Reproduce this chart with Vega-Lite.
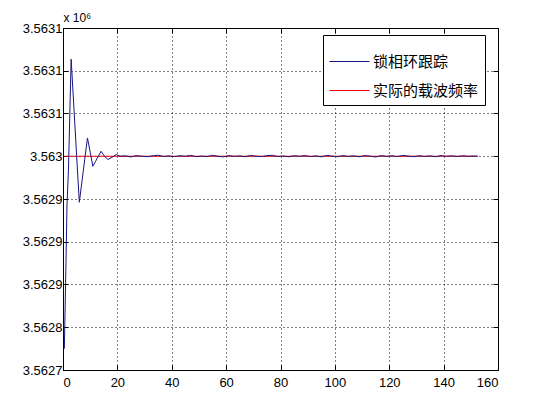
{
  "$schema": "https://vega.github.io/schema/vega-lite/v6.json",
  "autosize": "none",
  "width": 435,
  "height": 342,
  "padding": {"left": 63, "top": 28, "right": 35, "bottom": 40},
  "background": "white",
  "config": {
    "font": "Liberation Sans",
    "view": {"stroke": "black", "strokeWidth": 1},
    "axis": {"labelFont": "Liberation Sans", "labelFontSize": 13, "labelColor": "black", "domainColor": "black", "tickColor": "black"}
  },
  "data": {"values": [
    {"x": 0.5, "v": 3.563, "s": "实际的载波频率"},
    {"x": 152.5, "v": 3.563, "s": "实际的载波频率"},
    {"x": 0.5, "v": 3.562775, "s": "锁相环跟踪"},
    {"x": 1.1, "v": 3.562876, "s": "锁相环跟踪"},
    {"x": 1.47, "v": 3.5629427, "s": "锁相环跟踪"},
    {"x": 2, "v": 3.5629836, "s": "锁相环跟踪"},
    {"x": 3, "v": 3.5631135, "s": "锁相环跟踪"},
    {"x": 4, "v": 3.5630573, "s": "锁相环跟踪"},
    {"x": 5, "v": 3.5630012, "s": "锁相环跟踪"},
    {"x": 6, "v": 3.5629462, "s": "锁相环跟踪"},
    {"x": 7, "v": 3.5629712, "s": "锁相环跟踪"},
    {"x": 8, "v": 3.5629965, "s": "锁相环跟踪"},
    {"x": 9, "v": 3.5630214, "s": "锁相环跟踪"},
    {"x": 10, "v": 3.5630047, "s": "锁相环跟踪"},
    {"x": 11, "v": 3.5629883, "s": "锁相环跟踪"},
    {"x": 12, "v": 3.5629942, "s": "锁相环跟踪"},
    {"x": 13, "v": 3.563, "s": "锁相环跟踪"},
    {"x": 14, "v": 3.5630058, "s": "锁相环跟踪"},
    {"x": 15, "v": 3.5630012, "s": "锁相环跟踪"},
    {"x": 16.5, "v": 3.5629961, "s": "锁相环跟踪"},
    {"x": 18, "v": 3.5629988, "s": "锁相环跟踪"},
    {"x": 19.6, "v": 3.563002, "s": "锁相环跟踪"},
    {"x": 21, "v": 3.563, "s": "锁相环跟踪"},
    {"x": 23, "v": 3.5630005, "s": "锁相环跟踪"},
    {"x": 25, "v": 3.5629992, "s": "锁相环跟踪"},
    {"x": 27, "v": 3.5630008, "s": "锁相环跟踪"},
    {"x": 29, "v": 3.563, "s": "锁相环跟踪"},
    {"x": 31, "v": 3.5629995, "s": "锁相环跟踪"},
    {"x": 33, "v": 3.5630005, "s": "锁相环跟踪"},
    {"x": 35, "v": 3.5630012, "s": "锁相环跟踪"},
    {"x": 37, "v": 3.5629998, "s": "锁相环跟踪"},
    {"x": 39, "v": 3.5630003, "s": "锁相环跟踪"},
    {"x": 41, "v": 3.5629996, "s": "锁相环跟踪"},
    {"x": 43, "v": 3.5630006, "s": "锁相环跟踪"},
    {"x": 45, "v": 3.563, "s": "锁相环跟踪"},
    {"x": 47, "v": 3.563001, "s": "锁相环跟踪"},
    {"x": 49, "v": 3.5629995, "s": "锁相环跟踪"},
    {"x": 51, "v": 3.5630002, "s": "锁相环跟踪"},
    {"x": 53, "v": 3.5629997, "s": "锁相环跟踪"},
    {"x": 55, "v": 3.5630011, "s": "锁相环跟踪"},
    {"x": 57, "v": 3.563, "s": "锁相环跟踪"},
    {"x": 59, "v": 3.5629993, "s": "锁相环跟踪"},
    {"x": 61, "v": 3.5630008, "s": "锁相环跟踪"},
    {"x": 63, "v": 3.5629999, "s": "锁相环跟踪"},
    {"x": 65, "v": 3.5630004, "s": "锁相环跟踪"},
    {"x": 67, "v": 3.5629995, "s": "锁相环跟踪"},
    {"x": 69, "v": 3.5630009, "s": "锁相环跟踪"},
    {"x": 71, "v": 3.5630001, "s": "锁相环跟踪"},
    {"x": 73, "v": 3.5629996, "s": "锁相环跟踪"},
    {"x": 75, "v": 3.5630007, "s": "锁相环跟踪"},
    {"x": 77, "v": 3.5630011, "s": "锁相环跟踪"},
    {"x": 79, "v": 3.5629997, "s": "锁相环跟踪"},
    {"x": 81, "v": 3.5630003, "s": "锁相环跟踪"},
    {"x": 83, "v": 3.5629994, "s": "锁相环跟踪"},
    {"x": 85, "v": 3.5630006, "s": "锁相环跟踪"},
    {"x": 87, "v": 3.563, "s": "锁相环跟踪"},
    {"x": 89, "v": 3.5630008, "s": "锁相环跟踪"},
    {"x": 91, "v": 3.5629996, "s": "锁相环跟踪"},
    {"x": 93, "v": 3.5630004, "s": "锁相环跟踪"},
    {"x": 95, "v": 3.5629993, "s": "锁相环跟踪"},
    {"x": 97, "v": 3.5630009, "s": "锁相环跟踪"},
    {"x": 99, "v": 3.5630001, "s": "锁相环跟踪"},
    {"x": 101, "v": 3.5629995, "s": "锁相环跟踪"},
    {"x": 103, "v": 3.5630007, "s": "锁相环跟踪"},
    {"x": 105, "v": 3.5629998, "s": "锁相环跟踪"},
    {"x": 107, "v": 3.5630004, "s": "锁相环跟踪"},
    {"x": 109, "v": 3.5629994, "s": "锁相环跟踪"},
    {"x": 111, "v": 3.5630008, "s": "锁相环跟踪"},
    {"x": 113, "v": 3.5630001, "s": "锁相环跟踪"},
    {"x": 115, "v": 3.5629992, "s": "锁相环跟踪"},
    {"x": 117, "v": 3.5630007, "s": "锁相环跟踪"},
    {"x": 119, "v": 3.5629999, "s": "锁相环跟踪"},
    {"x": 121, "v": 3.5630005, "s": "锁相环跟踪"},
    {"x": 123, "v": 3.5629996, "s": "锁相环跟踪"},
    {"x": 125, "v": 3.563001, "s": "锁相环跟踪"},
    {"x": 127, "v": 3.5630002, "s": "锁相环跟踪"},
    {"x": 129, "v": 3.5629995, "s": "锁相环跟踪"},
    {"x": 131, "v": 3.5630006, "s": "锁相环跟踪"},
    {"x": 133, "v": 3.5629998, "s": "锁相环跟踪"},
    {"x": 135, "v": 3.5630004, "s": "锁相环跟踪"},
    {"x": 137, "v": 3.5629994, "s": "锁相环跟踪"},
    {"x": 139, "v": 3.5630008, "s": "锁相环跟踪"},
    {"x": 141, "v": 3.563, "s": "锁相环跟踪"},
    {"x": 143, "v": 3.5630005, "s": "锁相环跟踪"},
    {"x": 145, "v": 3.5629997, "s": "锁相环跟踪"},
    {"x": 147, "v": 3.5630006, "s": "锁相环跟踪"},
    {"x": 149, "v": 3.5629999, "s": "锁相环跟踪"},
    {"x": 151, "v": 3.5630003, "s": "锁相环跟踪"},
    {"x": 152.5, "v": 3.563, "s": "锁相环跟踪"}
  ]},
  "encoding": {
    "x": {"field": "x", "type": "quantitative", "scale": {"domain": [0, 160], "nice": false, "zero": false}},
    "y": {"field": "v", "type": "quantitative", "scale": {"domain": [3.56275, 3.56315], "nice": false, "zero": false}},
    "color": {
      "field": "s", "type": "nominal",
      "scale": {"domain": ["锁相环跟踪", "实际的载波频率"], "range": ["#161682", "#ff0000"]},
      "legend": {
        "title": null, "orient": "none", "legendX": 260, "legendY": 7,
        "direction": "vertical",
        "strokeColor": "black", "fillColor": "white", "padding": 6, "cornerRadius": 0,
        "symbolType": "stroke", "symbolSize": 1600, "symbolStrokeWidth": 1,
        "labelFont": "Noto Sans CJK SC", "labelFontSize": 15, "labelColor": "black",
        "labelOffset": 3, "rowPadding": 0, "labelLimit": 200
      }
    },
    "order": {"field": "x", "type": "quantitative"}
  },
  "layer": [
    {
      "transform": [{"filter": "datum.s == '实际的载波频率'"}],
      "mark": {"type": "line", "strokeWidth": 1},
      "encoding": {
        "x": {"field": "x", "type": "quantitative", "axis": {
          "orient": "bottom", "values": [0, 20, 40, 60, 80, 100, 120, 140, 160], "format": "d",
          "tickSize": -5, "labelPadding": 11, "title": null,
          "grid": true, "gridColor": "black", "gridDash": [1, 3], "gridOpacity": 1, "gridWidth": 1
        }},
        "y": {"field": "v", "type": "quantitative", "axis": {
          "orient": "left",
          "values": [3.56275, 3.5628, 3.56285, 3.5629, 3.56295, 3.563, 3.56305, 3.5631, 3.56315],
          "labelExpr": "datum.value < 3.562755 ? '3.5627' : datum.value < 3.562805 ? '3.5628' : datum.value < 3.562975 ? '3.5629' : datum.value < 3.563025 ? '3.563' : '3.5631'",
          "tickSize": -5, "labelPadding": 6,
          "grid": true, "gridColor": "black", "gridDash": [1, 3], "gridOpacity": 1, "gridWidth": 1,
          "title": "x 10⁶", "titleAngle": 0, "titleX": 0, "titleY": -7, "titleAlign": "left",
          "titleBaseline": "alphabetic", "titleFont": "Liberation Sans", "titleFontSize": 12, "titleFontWeight": "normal"
        }}
      }
    },
    {
      "transform": [{"filter": "datum.s == '锁相环跟踪'"}],
      "mark": {"type": "line", "strokeWidth": 1},
      "encoding": {
        "x": {"field": "x", "type": "quantitative", "axis": {
          "orient": "top", "values": [0, 20, 40, 60, 80, 100, 120, 140, 160],
          "tickSize": -5, "labels": false, "domain": false, "grid": false, "title": null
        }},
        "y": {"field": "v", "type": "quantitative", "axis": {
          "orient": "right",
          "values": [3.56275, 3.5628, 3.56285, 3.5629, 3.56295, 3.563, 3.56305, 3.5631, 3.56315],
          "tickSize": -5, "labels": false, "domain": false, "grid": false, "title": null
        }}
      }
    }
  ],
  "resolve": {"axis": {"x": "independent", "y": "independent"}}
}
